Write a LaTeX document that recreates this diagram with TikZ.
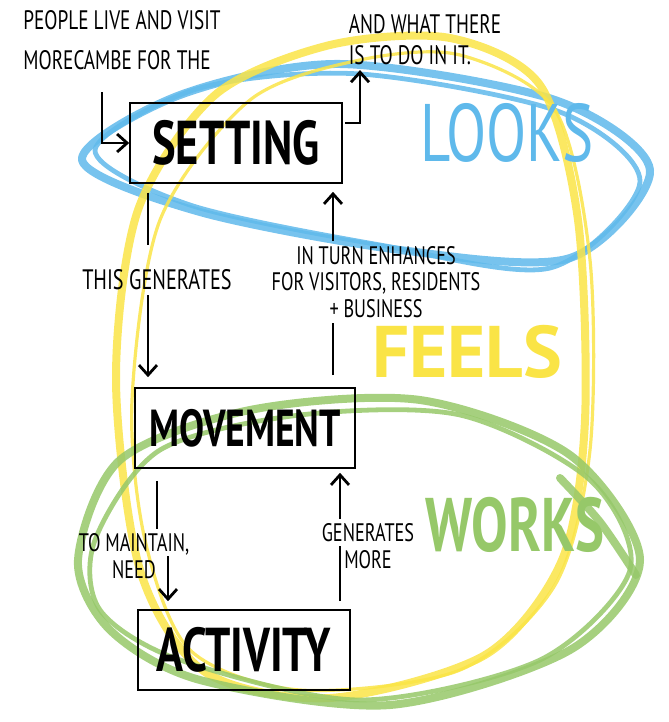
\documentclass[tikz,border=0pt]{standalone}
\usepackage{fontspec}
\newfontfamily\hand{PT Sans}[FakeStretch=0.72]
\newfontfamily\marker{PT Sans}
\usepackage{tikz}
\usetikzlibrary{arrows}
\usetikzlibrary{arrows.meta}
\usetikzlibrary{positioning}
\definecolor{looksblue}{RGB}{95,185,235}
\definecolor{feelsyellow}{RGB}{250,228,70}
\definecolor{worksgreen}{RGB}{150,200,105}
\tikzset{
    pen/.style={line width=0.07cm, >={Straight Barb[length=0.25cm,width=0.45cm]}},
    hl/.style={draw=#1, line width=0.2cm, opacity=0.85, line cap=round, line join=round},
    box/.style={draw, line width=0.04cm, minimum width=5.3cm, minimum height=2cm,
        font=\hand\bfseries\fontsize{44}{44}\selectfont},
    note/.style={font=\hand\fontsize{18}{19}\selectfont, align=center},
    word/.style={font=\hand\fontsize{58}{58}\selectfont}
}

\begin{document}
\begin{tikzpicture}[x=0.025cm, y=-0.025cm]
    \useasboundingbox (0,0) rectangle (669,722);

    % looks / feels / works loops
    \draw[hl=looksblue] plot[smooth cycle] coordinates {(82,160) (180,95) (340,64) (555,100) (650,170) (570,258) (400,250) (200,212)};
    \draw[hl=looksblue, line width=0.12cm] plot[smooth cycle] coordinates {(95,150) (200,88) (360,74) (560,112) (640,182) (550,268) (380,245) (190,205)};
    \draw[hl=feelsyellow] plot[smooth cycle] coordinates {(116,380) (138,210) (215,95) (330,45) (450,38) (540,85) (578,220) (585,420) (562,560) (485,655) (330,698) (205,672) (140,570)};
    \draw[hl=feelsyellow, line width=0.08cm] plot[smooth cycle] coordinates {(132,400) (160,220) (250,100) (360,60) (460,55) (555,110) (590,260) (590,450) (555,585) (460,670) (300,690) (190,650) (145,540)};
    \draw[hl=worksgreen] plot[smooth cycle] coordinates {(78,560) (120,460) (250,410) (420,400) (570,455) (640,560) (570,650) (390,705) (200,680) (110,630)};
    \draw[hl=worksgreen, line width=0.12cm] plot[smooth cycle] coordinates {(95,540) (160,450) (300,415) (460,415) (590,480) (630,570) (540,660) (360,700) (180,660) (100,610)};
    \draw[hl=worksgreen] plot[smooth] coordinates {(560,478) (600,522) (636,575)};

    \node[box] (setting) at (236,143) {SETTING};
    \node[box, minimum width=5.5cm, font=\hand\bfseries\fontsize{37}{37}\selectfont] (movement) at (245,428) {MOVEMENT};
    \node[box] (activity) at (244,650) {ACTIVITY};

    \node[word, text=looksblue] (looks) at (507,133) {LOOKS};
    \node[word, text=feelsyellow, font=\marker\bfseries\fontsize{52}{52}\selectfont] (feels) at (467,352) {FEELS};
    \node[word, text=worksgreen, font=\hand\bfseries\fontsize{54}{54}\selectfont] (works) at (515,525) {WORKS};

    \node[note, align=left, font=\hand\fontsize{19}{28}\selectfont] (people) at (122,40) {PEOPLE LIVE AND VISIT\\MORECAMBE FOR THE};
    \node[note, align=left, font=\hand\fontsize{19}{22}\selectfont] (what) at (425,40) {AND WHAT THERE\\IS TO DO IN IT.};
    \node[note, font=\hand\fontsize{20}{20}\selectfont] (thisgen) at (157,280) {THIS GENERATES};
    \node[note] (enh) at (376,282) {IN TURN ENHANCES\\FOR VISITORS, RESIDENTS\\+ BUSINESS};
    \node[note] (maint) at (134,556) {TO MAINTAIN,\\NEED};
    \node[note] (genmore) at (368,546) {GENERATES\\MORE};

    \coordinate (lanep) at (102,0);
    \coordinate (laneu) at (360,0);
    \coordinate (exit) at (345,123);
    \coordinate (lanel) at (148,0);
    \coordinate (laner) at (333,0);
    \coordinate (lanem) at (157,0);
    \coordinate (lanea) at (168,0);
    \coordinate (lanez) at (340,0);

\draw [pen,->,shorten <=0.45cm] (people.south -| lanep) |- (setting.west);
\draw [pen,->] (exit) -| (what.south -| laneu);
\draw [pen,shorten <=0.22cm,shorten >=0.5cm] (setting.south -| lanel) to (thisgen.north -| lanel);
\draw [pen,->,shorten >=0.25cm] (thisgen.south -| lanel) to (movement.north -| lanel);
\draw [pen,->,shorten >=0.2cm] (enh.north -| laner) to (setting.south -| laner);
\draw [pen,shorten <=0.3cm] (movement.north -| laner) to (enh.south -| laner);
\draw [pen,shorten <=0.3cm] (movement.south -| lanem) to (maint.north -| lanem);
\draw [pen,->,shorten >=0.2cm] (maint.east -| lanea) to (activity.north -| lanea);
\draw [pen,->,shorten >=0.1cm] (genmore.north -| lanez) to (movement.south -| lanez);
\draw [pen,shorten <=0.2cm] (activity.north -| lanez) to (genmore.east -| lanez);
\end{tikzpicture}
\end{document}
